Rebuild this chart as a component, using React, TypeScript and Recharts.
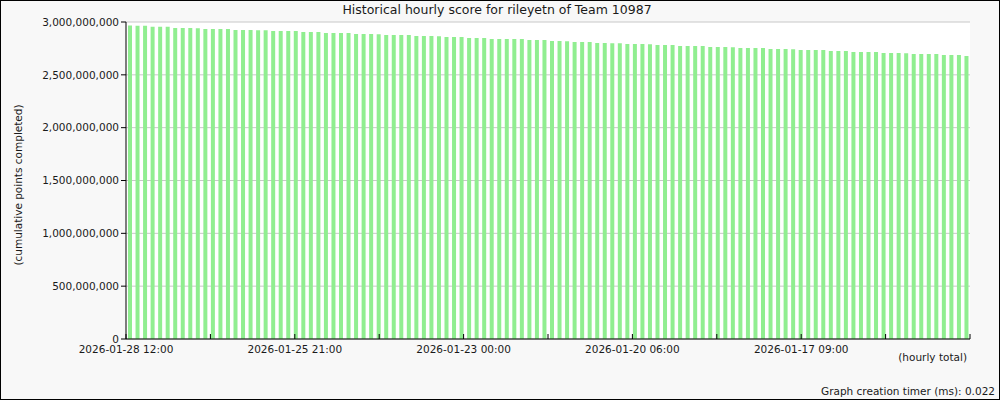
import { BarChart, Bar, XAxis, YAxis, CartesianGrid } from 'recharts';

const chartTitle = 'Historical hourly score for rileyetn of Team 10987';
const yAxisTitle = '(cumulative points completed)';
const xAxisTitle = '(hourly total)';
const footerText = 'Graph creation timer (ms): 0.022';

// cumulative score per bar, newest on the left
const scores = [
  2966000000, 2965000000, 2964000000,
  2956000000, 2955000000, 2954000000,
  2944000000, 2943000000, 2943000000, 2942000000,
  2934000000, 2934000000, 2933000000, 2933000000,
  2925000000, 2924000000, 2924000000, 2923000000, 2923000000,
  2915000000, 2915000000, 2914000000, 2914000000,
  2906000000, 2905000000, 2905000000,
  2896000000, 2896000000, 2895000000, 2895000000,
  2887000000, 2886000000, 2886000000, 2885000000,
  2877000000, 2877000000, 2876000000, 2876000000,
  2868000000, 2867000000, 2867000000, 2866000000,
  2858000000, 2858000000, 2857000000,
  2849000000, 2848000000, 2848000000,
  2840000000, 2839000000, 2839000000, 2838000000, 2838000000,
  2830000000, 2829000000, 2829000000,
  2820000000, 2820000000, 2819000000,
  2811000000, 2810000000, 2810000000,
  2801000000, 2801000000, 2800000000, 2800000000,
  2792000000, 2791000000, 2791000000, 2790000000,
  2783000000, 2782000000, 2782000000,
  2773000000, 2773000000, 2772000000, 2772000000,
  2764000000, 2763000000, 2763000000, 2762000000,
  2754000000, 2754000000, 2753000000, 2753000000,
  2745000000, 2744000000, 2744000000, 2743000000,
  2735000000, 2735000000, 2734000000, 2734000000,
  2726000000, 2725000000, 2725000000,
  2716000000, 2716000000, 2715000000, 2715000000,
  2707000000, 2706000000, 2706000000, 2705000000,
  2697000000, 2697000000, 2696000000, 2696000000,
  2688000000, 2687000000, 2687000000,
  2678000000,
];

const yTicks = [0, 500000000, 1000000000, 1500000000, 2000000000, 2500000000, 3000000000];

// time axis, hours back from the newest tick
const timeSpan = 315;
const timeTicks = [0, 31.5, 63, 94.5, 126, 157.5, 189, 220.5, 252, 283.5, 315];
const timeLabels = [
  '2026-01-28 12:00', '', '2026-01-25 21:00', '', '2026-01-23 00:00', '',
  '2026-01-20 06:00', '', '2026-01-17 09:00', '', '',
];

const font = '"DejaVu Sans", sans-serif';
const textColor = '#1a1a1a';

// the bars sit on a slot axis; convert the hour ticks onto it
const hoursPerSlot = timeSpan / scores.length;
const slotTicks = timeTicks.map((h) => h / hoursPerSlot - 0.5);

const TimeTick = (props: any) => {
  const { x, y, index } = props;
  return (
    <g>
      <line x1={x} y1={y} x2={x} y2={y - 5} stroke="#000" />
      <text x={x} y={y + 14} textAnchor="middle" fontSize={10.5} fontFamily={font} fill={textColor}>
        {timeLabels[index]}
      </text>
    </g>
  );
};

const App = () => {
  const data = scores.map((score, i) => ({ slot: i, score }));

  return (
    <div style={{ position: 'relative', width: 1000, height: 400, background: '#f8f8f8', fontFamily: font, color: textColor }}>
      <style>{'body{margin:0}'}</style>
      <BarChart
        width={1000}
        height={400}
        data={data}
        margin={{ top: 22, right: 30, bottom: 31, left: 16 }}
      >
        <CartesianGrid vertical={false} stroke="#c8c8c8" fill="#fff" />
        <XAxis
          dataKey="slot"
          type="number"
          domain={[-0.5, scores.length - 0.5]}
          ticks={slotTicks}
          interval={0}
          allowDataOverflow
          tick={<TimeTick />}
          tickLine={false}
          tickSize={0}
          tickMargin={0}
          axisLine={{ stroke: '#000' }}
          height={30}
        />
        <YAxis
          domain={[0, 3000000000]}
          ticks={yTicks}
          interval={0}
          width={110}
          tickSize={5}
          tickLine={{ stroke: '#000' }}
          axisLine={{ stroke: '#000' }}
          tick={{ fontSize: 10.5, fontFamily: font, fill: textColor }}
          tickFormatter={(v: number) => v.toLocaleString('en-US')}
        />
        <Bar dataKey="score" fill="#90ee90" barSize={4} isAnimationActive={false} />
      </BarChart>
      <div style={{ position: 'absolute', left: 0, width: 994, top: 2, textAlign: 'center', fontSize: 12.5 }}>
        {chartTitle}
      </div>
      <div
        style={{
          position: 'absolute', left: 18, top: 185, fontSize: 10.5, whiteSpace: 'nowrap',
          transform: 'translate(-50%, -50%) rotate(-90deg)',
        }}
      >
        {yAxisTitle}
      </div>
      <div style={{ position: 'absolute', right: 33, top: 351, fontSize: 10.5 }}>{xAxisTitle}</div>
      <div style={{ position: 'absolute', right: 5, top: 385, fontSize: 10.5 }}>{footerText}</div>
      <div style={{ position: 'absolute', inset: 0, border: '1px solid #000', pointerEvents: 'none' }} />
    </div>
  );
};

export default App;
